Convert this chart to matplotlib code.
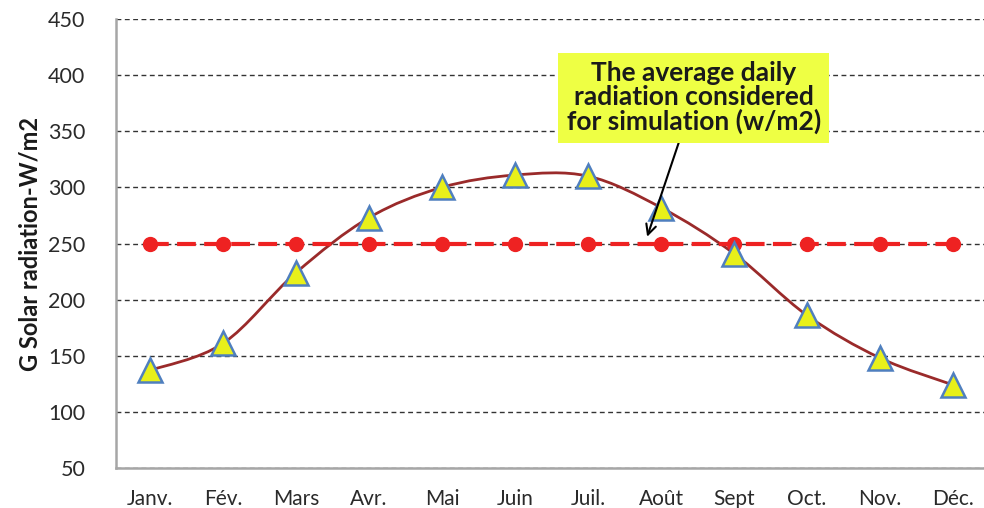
import matplotlib
matplotlib.use("Agg")
import matplotlib.pyplot as plt
from matplotlib.path import Path
from matplotlib.patches import PathPatch
import numpy as np

months = ["Janv.", "Fév.", "Mars", "Avr.", "Mai", "Juin", "Juil.", "Août", "Sept", "Oct.", "Nov.", "Déc."]
radiation = [137, 161, 224, 273, 300, 311, 310, 282, 241, 186, 148, 124]
average = [250] * 12
yticks = [50, 100, 150, 200, 250, 300, 350, 400, 450]
note = "The average daily\nradiation considered\nfor simulation (w/m2)"

plt.rcParams['font.family'] = ['Lato', 'DejaVu Sans']

fig = plt.figure(figsize=(9.84, 5.08), dpi=100)
ax = fig.add_axes([116/984, 40/508, 876/984, 449/508])

x = np.arange(len(months))
ax.set_xlim(-0.466, 11.534)
ax.set_ylim(50, 450)
ax.set_yticks(yticks)
ax.set_xticks(x)
ax.set_xticklabels(months)
ax.tick_params(axis='y', length=0, labelsize=15.5, colors='#2a2a2a', pad=22)
ax.tick_params(axis='x', length=0, labelsize=15, colors='#2a2a2a', pad=15)
ax.yaxis.grid(True, linestyle=(0, (3.5, 2.5)), color='#333333', linewidth=1.0)
ax.set_axisbelow(True)
for s in ['top', 'right']:
    ax.spines[s].set_visible(False)
for s in ['left', 'bottom']:
    ax.spines[s].set_color('#a6a6a6')
    ax.spines[s].set_linewidth(1.8)

ax.set_ylabel("G Solar radiation-W/m2", fontsize=17, fontweight='bold', color='#1a1a1a', labelpad=5)

# smooth curve (Excel-style) through the data points
xs = x.astype(float)
ys = np.array(radiation, dtype=float)
verts = [(xs[0], ys[0])]
codes = [Path.MOVETO]
t = 1/6
for i in range(len(xs) - 1):
    p0 = (xs[max(i-1, 0)], ys[max(i-1, 0)])
    p1 = (xs[i], ys[i])
    p2 = (xs[i+1], ys[i+1])
    p3 = (xs[min(i+2, len(xs)-1)], ys[min(i+2, len(xs)-1)])
    c1 = (p1[0] + (p2[0]-p0[0])*t, p1[1] + (p2[1]-p0[1])*t)
    c2 = (p2[0] - (p3[0]-p1[0])*t, p2[1] - (p3[1]-p1[1])*t)
    verts += [c1, c2, p2]
    codes += [Path.CURVE4]*3
ax.add_patch(PathPatch(Path(verts, codes), facecolor='none', edgecolor='#9a2a2a', linewidth=2, zorder=3))

ax.plot(x, average, color='#ee2222', linewidth=3, linestyle=(0, (4.5, 2)), marker='o',
        markersize=10, markerfacecolor='#ee2222', markeredgecolor='#ee2222', zorder=4)
ax.plot(x, radiation, linestyle='none', marker='^', markersize=17, markerfacecolor='#e8f01a',
        markeredgecolor='#4f7fbf', markeredgewidth=1.8, zorder=5)

ax.annotate(note, xy=(6.81, 256), xytext=(7.45, 380), ha='center', va='center',
            fontsize=19, fontweight='bold', color='#1a1a1a', linespacing=1.0,
            bbox=dict(boxstyle='square,pad=0.32', facecolor='#eeff44', edgecolor='none'),
            arrowprops=dict(arrowstyle='->', color='black', lw=1.5, mutation_scale=18,
                            shrinkA=0, shrinkB=0),
            zorder=6)

fig.savefig("out.png", dpi=100)
